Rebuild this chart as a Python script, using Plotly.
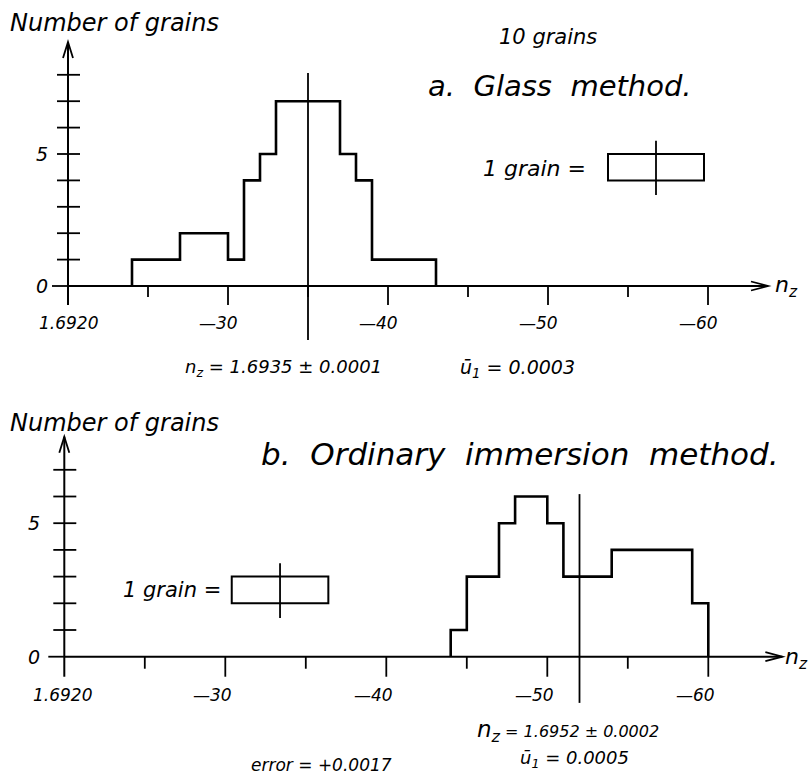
import plotly.graph_objects as go

# ---------------- data ----------------
# x values are in units of 0.0001 above 1.6900 (20 -> 1.6920)
a_edges = [24, 27, 30, 31, 32, 33, 37, 38, 39, 43]
a_counts = [1, 2, 1, 4, 5, 7, 5, 4, 1]
a_mean = 35          # n_z = 1.6935

b_edges = [44, 45, 47, 48, 50, 51, 54, 59, 60]
b_counts = [1, 3, 5, 6, 5, 3, 4, 2]
b_mean = 52          # n_z = 1.6952

grain_width = 6      # one grain drawn as a 6 x 1 box
a_grain_center = 56.75
a_grain_bottom = 4
b_grain_center = 33.4
b_grain_bottom = 2

x_major = [20, 30, 40, 50, 60]
x_major_labels = ["1.6920", "—30", "—40", "—50", "—60"]
x_minor = [25, 35, 45, 55]
a_yticks = [1, 2, 3, 4, 5, 6, 7, 8]
b_yticks = [1, 2, 3, 4, 5, 6, 7]
y_labelled = [0, 5]

W, H = 810, 778
FONT = "DejaVu Sans"
LW = 2.6


def step_xy(edges, counts):
    xs = [edges[0]] + list(edges)
    ys = [0] + list(counts) + [0]
    return xs, ys


fig = go.Figure()

for edges, counts, xa, ya in [(a_edges, a_counts, "x", "y"), (b_edges, b_counts, "x2", "y2")]:
    xs, ys = step_xy(edges, counts)
    fig.add_trace(go.Scatter(x=xs, y=ys, mode="lines", line=dict(color="black", width=LW, shape="hv"),
                             xaxis=xa, yaxis=ya, showlegend=False, hoverinfo="skip"))

shapes = []
annotations = []


def line(xr, yr, x0, y0, x1, y1, w=2.0):
    shapes.append(dict(type="line", xref=xr, yref=yr, x0=x0, y0=y0, x1=x1, y1=y1,
                       line=dict(color="black", width=w)))


def text(x, y, s, size, xanchor="center"):
    annotations.append(dict(x=x / W, y=1 - y / H, xref="paper", yref="paper", text=s, showarrow=False,
                            xanchor=xanchor, yanchor="middle",
                            font=dict(family=FONT, size=size, color="black", style="italic")))


def panel(xr, yr, yticks, ytop, xend, ux, uy, mean, mean_top, mean_bot,
          gc, gb, tick_major, tick_minor):
    # axes
    line(xr, yr, 20, -tick_major, 20, ytop, 2.0)
    line(xr, yr, 20, 0, xend, 0, 2.0)
    # arrowheads
    shapes.append(dict(type="path", xref=xr, yref=yr,
                       path=f"M {xend-17/ux},{4.5/uy} L {xend},0 L {xend-17/ux},{-4.5/uy}",
                       line=dict(color="black", width=1.8)))
    shapes.append(dict(type="path", xref=xr, yref=yr,
                       path=f"M {20-5/ux},{ytop-16/uy} L 20,{ytop} L {20+5/ux},{ytop-16/uy}",
                       line=dict(color="black", width=1.8)))
    # y ticks
    line(xr, yr, 20 - 16 / ux, 0, 20, 0, 1.8)
    for v in yticks:
        line(xr, yr, 20 - 11 / ux, v, 20 + 12 / ux, v, 1.8)
    # x ticks
    for v in x_major[1:]:
        line(xr, yr, v, 0, v, -tick_major, 1.8)
    for v in x_minor:
        line(xr, yr, v, 0, v, -tick_minor, 1.8)
    # mean line
    line(xr, yr, mean, mean_bot, mean, mean_top, 1.8)
    # one-grain box
    shapes.append(dict(type="rect", xref=xr, yref=yr, x0=gc - grain_width / 2, x1=gc + grain_width / 2,
                       y0=gb, y1=gb + 1, line=dict(color="black", width=2.0)))
    line(xr, yr, gc, gb - 0.55, gc, gb + 1.5, 1.8)


# panel a mapping: 20 -> px 68, 16 px/unit ; y0 -> px 286, 26.4 px/unit
panel("x", "y", a_yticks, 9.24, 63.75, 16.0, 26.4, a_mean, 8.07, -2.05,
      a_grain_center, a_grain_bottom, 0.72, 0.42)
# panel b mapping: 20 -> px 64.3, 16.1 px/unit ; y0 -> px 656.7, 26.7 px/unit
panel("x2", "y2", b_yticks, 8.24, 64.6, 16.1, 26.7, b_mean, 6.09, -1.73,
      b_grain_center, b_grain_bottom, 0.75, 0.45)

# tick labels (data driven positions)
for v, lab in zip(x_major, x_major_labels):
    annotations.append(dict(x=v - (0.0 if v == 20 else 0.6), y=-1.4, xref="x", yref="y", text=lab,
                            showarrow=False, xanchor="center", yanchor="middle",
                            font=dict(family=FONT, size=17, color="black", style="italic")))
    annotations.append(dict(x=v - (0.1 if v == 20 else 0.8), y=-1.45, xref="x2", yref="y2", text=lab,
                            showarrow=False, xanchor="center", yanchor="middle",
                            font=dict(family=FONT, size=17, color="black", style="italic")))
for v in y_labelled:
    annotations.append(dict(x=18.85, y=v, xref="x", yref="y", text=str(v), showarrow=False,
                            xanchor="right", yanchor="middle",
                            font=dict(family=FONT, size=19, color="black", style="italic")))
    annotations.append(dict(x=18.6, y=v, xref="x2", yref="y2", text=str(v), showarrow=False,
                            xanchor="right", yanchor="middle",
                            font=dict(family=FONT, size=19, color="black", style="italic")))

# texts, panel a
text(8, 23, "Number of grains", 24, "left")
text(548, 37, "10 grains", 21)
text(560, 86, "a.  Glass  method.", 29)
text(534, 168, "1 grain =", 22)
text(786, 286, "n<sub>z</sub>", 22)
text(283, 368, "n<sub>z</sub> = 1.6935 ± 0.0001", 18)
text(517, 368, "ū<sub>1</sub> = 0.0003", 19)

# texts, panel b
text(8, 423, "Number of grains", 24, "left")
text(520, 454, "b.  Ordinary  immersion  method.", 31)
text(172, 590, "1 grain =", 21)
text(796, 658, "n<sub>z</sub>", 22)
text(568, 731, "<span style='font-size:23px'>n<sub>z</sub></span> = 1.6952 ± 0.0002", 16)
text(321, 765, "error = +0.0017", 17)
text(574, 759, "ū<sub>1</sub> = 0.0005", 18)

fig.update_layout(
    width=W, height=H, autosize=False,
    margin=dict(l=0, r=0, t=0, b=0),
    paper_bgcolor="white", plot_bgcolor="white",
    xaxis=dict(domain=[0, 1], range=[20 - 68 / 16.0, 20 + (W - 68) / 16.0], visible=False, anchor="y"),
    yaxis=dict(domain=[0.5, 1], range=[(286 - 389) / 26.4, 286 / 26.4], visible=False, anchor="x"),
    xaxis2=dict(domain=[0, 1], range=[20 - 64.3 / 16.1, 20 + (W - 64.3) / 16.1], visible=False, anchor="y2"),
    yaxis2=dict(domain=[0, 0.5], range=[(656.7 - 778) / 26.7, (656.7 - 389) / 26.7], visible=False, anchor="x2"),
    shapes=shapes, annotations=annotations,
)

fig.write_html("out.html", config={"displayModeBar": False},
               post_script="document.body.style.margin='0';document.body.style.overflow='hidden';")
